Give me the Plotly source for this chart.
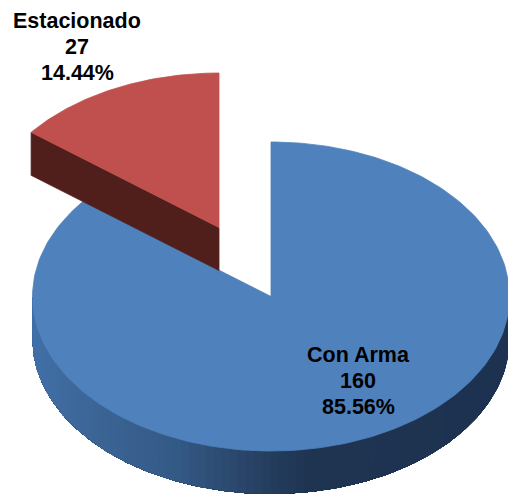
import numpy as np
import plotly.graph_objects as go

categories = ["Con Arma", "Estacionado"]
values = [160, 27]
top_colors = ["#4f81bd", "#c0504d"]
cut_wall_color = "#511f1b"

W, H = 508, 495
RX, RY, DEPTH = 238.5, 154.5, 43
APEX = [(271, 296.5), (219, 227.5)]
LABEL_X = [358, 77]
LABEL_Y = [355, 21]
LINE_GAP = 26

# gradient of the cylindrical wall, from left to right across the pie
wall_stops_x = [32, 100, 180, 270, 310, 510]
wall_stops_rgb = [(66, 112, 168), (60, 101, 150), (52, 90, 134), (38, 63, 96), (31, 53, 82), (29, 50, 80)]

total = sum(values)
fracs = [v / total for v in values]
main_end = 2 * np.pi * fracs[0]


def ell(theta, apex, dz=0):
    return apex[0] + RX * np.sin(theta), apex[1] - RY * np.cos(theta) + dz


fig = go.Figure()


def poly(xs, ys, color, lw=0.8):
    fig.add_trace(go.Scatter(x=list(xs), y=list(ys), mode="lines", fill="toself",
                             fillcolor=color, line=dict(color=color, width=lw),
                             hoverinfo="skip", showlegend=False))


# main slice: outer wall, painted as overlapping bands so that no seams show
edges = np.linspace(np.pi / 2, 3 * np.pi / 2, 91)
for i in range(len(edges) - 1):
    ts = np.linspace(edges[i], edges[-1], 181 - 2 * i)
    x1, y1 = ell(ts, APEX[0])
    x2, y2 = ell(ts[::-1], APEX[0], DEPTH)
    xm = ell(edges[i], APEX[0])[0]
    rgb = [int(np.interp(xm, wall_stops_x, [c[j] for c in wall_stops_rgb])) for j in range(3)]
    poly(np.r_[x1, x2, x1[0]], np.r_[y1, y2, y1[0]], "rgb(%d,%d,%d)" % tuple(rgb), lw=0)

# main slice: top face
t = np.linspace(0, main_end, 240)
x, y = ell(t, APEX[0])
poly(np.r_[APEX[0][0], x, APEX[0][0]], np.r_[APEX[0][1], y, APEX[0][1]], top_colors[0])

# exploded slice: cut wall, then top face
t = np.linspace(main_end, 2 * np.pi, 80)
x, y = ell(t, APEX[1])
poly([APEX[1][0], x[0], x[0], APEX[1][0], APEX[1][0]],
     [APEX[1][1], y[0], y[0] + DEPTH, APEX[1][1] + DEPTH, APEX[1][1]], cut_wall_color)
poly(np.r_[APEX[1][0], x, APEX[1][0]], np.r_[APEX[1][1], y, APEX[1][1]], top_colors[1])

# labels
for name, v, f, lx, ly in zip(categories, values, fracs, LABEL_X, LABEL_Y):
    for i, line in enumerate([name, str(v), f"{f * 100:.2f}%"]):
        fig.add_annotation(x=lx, y=ly + i * LINE_GAP, text=f"<b>{line}</b>", showarrow=False,
                           xanchor="center", yanchor="middle",
                           font=dict(family="Liberation Sans, Arial, sans-serif", size=21.5, color="#000000"))

fig.update_xaxes(visible=False, range=[0, W], fixedrange=True)
fig.update_yaxes(visible=False, range=[H, 0], fixedrange=True)
fig.update_layout(width=W, height=H, margin=dict(l=0, r=0, t=0, b=0),
                  paper_bgcolor="white", plot_bgcolor="white", showlegend=False)
fig.write_html("out.html", config={"displayModeBar": False},
               post_script="document.body.style.margin='0';document.documentElement.style.overflow='hidden';")
